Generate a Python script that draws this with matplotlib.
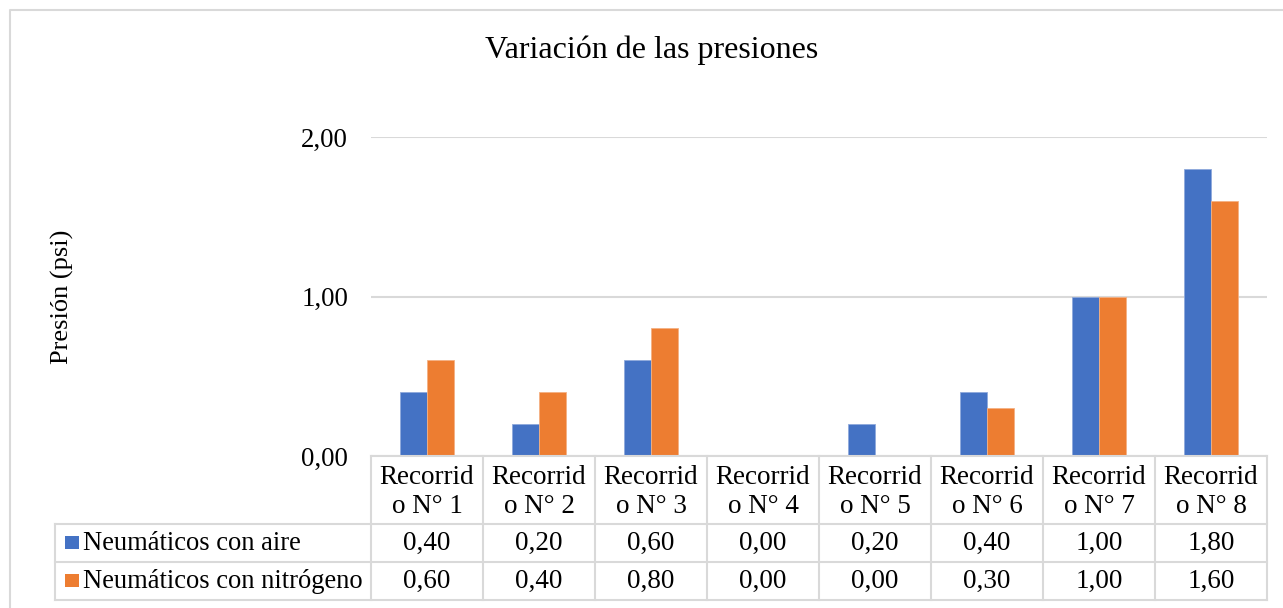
import matplotlib
matplotlib.use("Agg")
import matplotlib.pyplot as plt
from matplotlib.lines import Line2D
from matplotlib.patches import Rectangle
import matplotlib.transforms as mtransforms

categories = ["Recorrid\no N° 1", "Recorrid\no N° 2", "Recorrid\no N° 3", "Recorrid\no N° 4",
              "Recorrid\no N° 5", "Recorrid\no N° 6", "Recorrid\no N° 7", "Recorrid\no N° 8"]
series_names = ["Neumáticos con aire", "Neumáticos con nitrógeno"]
aire = [0.40, 0.20, 0.60, 0.00, 0.20, 0.40, 1.00, 1.80]
nitrogeno = [0.60, 0.40, 0.80, 0.00, 0.00, 0.30, 1.00, 1.60]
yticks = [0.0, 1.0, 2.0]
title = "Variación de las presiones"
ylabel = "Presión (psi)"
colors = ["#4472C4", "#ED7D31"]

plt.rcParams['font.family'] = ['Liberation Serif', 'DejaVu Serif']

W, H = 1283, 608
fig = plt.figure(figsize=(W / 100, H / 100), dpi=100)

def fx(px):
    return px / W

def fy(py):
    return 1 - py / H

left_px, right_px, top_px, base_px = 371, 1267, 137, 456
ax = fig.add_axes([fx(left_px), fy(base_px), fx(right_px) - fx(left_px), fy(top_px) - fy(base_px)])

n = len(categories)
bw = 0.237
xs = list(range(n))
ax.bar([x - bw / 2 for x in xs], aire, width=bw, color=colors[0], edgecolor="#8fa9dc", linewidth=0.6, zorder=3)
ax.bar([x + bw / 2 for x in xs], nitrogeno, width=bw, color=colors[1], edgecolor="#f4b183", linewidth=0.6, zorder=3)

ax.set_xlim(-0.5, n - 0.5)
ax.set_ylim(0, 2.0)
ax.set_yticks(yticks)
ax.set_yticklabels([f"{v:.2f}".replace(".", ",") for v in yticks], fontsize=19.3)
ax.set_xticks([])
ax.tick_params(axis='y', length=0, pad=16.5)
for s in ax.spines.values():
    s.set_visible(False)
ax.grid(axis='y', color="#d9d9d9", linewidth=1.5, zorder=0)
ax.set_axisbelow(True)

fig.text(fx(62), fy(297), ylabel, rotation=90, ha='center', va='center', fontsize=19)
fig.text(fx(652), fy(50), title, ha='center', va='center', fontsize=23)

# Table
lc = "#d9d9d9"
lw = 1.5
row_y = [456, 524, 562, 600]
leg_left = 55
fs = 19.5
bt = mtransforms.blended_transform_factory(ax.transData, fig.transFigure)

def hline(x0, x1, y):
    fig.add_artist(Line2D([fx(x0), fx(x1)], [fy(y), fy(y)], color=lc, lw=lw))

def vline(x, y0, y1):
    fig.add_artist(Line2D([fx(x), fx(x)], [fy(y0), fy(y1)], color=lc, lw=lw))

hline(left_px, right_px, row_y[0])
for y in row_y[1:]:
    hline(leg_left, right_px, y)
vline(leg_left, row_y[1], row_y[3])
for k in range(n + 1):
    xb = k - 0.5
    fig.add_artist(Line2D([xb, xb], [fy(row_y[0]), fy(row_y[3])], color=lc, lw=lw, transform=bt))

for i, cat in enumerate(categories):
    fig.text(i, fy((row_y[0] + row_y[1]) / 2 + 2), cat, transform=bt, ha='center', va='center',
             fontsize=fs, linespacing=1.22)
    fig.text(i, fy((row_y[1] + row_y[2]) / 2), f"{aire[i]:.2f}".replace(".", ","), transform=bt,
             ha='center', va='center', fontsize=fs)
    fig.text(i, fy((row_y[2] + row_y[3]) / 2), f"{nitrogeno[i]:.2f}".replace(".", ","), transform=bt,
             ha='center', va='center', fontsize=fs)

for r, (name, col) in enumerate(zip(series_names, colors)):
    yc = (row_y[r + 1] + row_y[r + 2]) / 2
    fig.add_artist(Rectangle((fx(65), fy(yc + 6)), fx(14), fy(yc - 7) - fy(yc + 6),
                             facecolor=col, edgecolor='none', transform=fig.transFigure))
    fig.text(fx(83), fy(yc), name, ha='left', va='center', fontsize=19.1)

# outer border
fig.add_artist(Line2D([fx(10), fx(10), fx(1283)], [fy(608), fy(10), fy(10)], color=lc, lw=1.5))

fig.savefig("out.png", dpi=100, facecolor="white")
